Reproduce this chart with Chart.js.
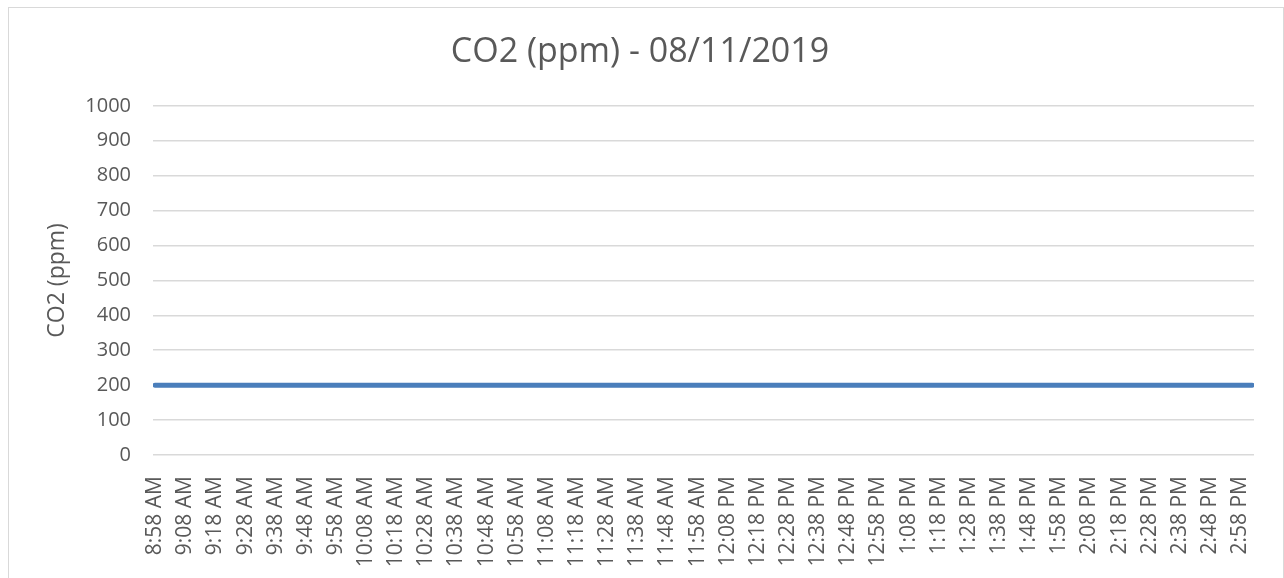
<!DOCTYPE html>
<html>
<head>
<meta charset="utf-8">
<script src="https://cdn.jsdelivr.net/npm/chart.js@4/dist/chart.umd.min.js"></script>
<style>
    html, body {margin: 0; padding: 0; background: #fff;}
    .frame {position: absolute; left: 8px; top: 7px; width: 1274px; height: 600px; border: 1px solid #d9d9d9;}
    #wrap {position: absolute; left: 0; top: 0; width: 1284px; height: 578px;}
</style>
</head>
<body>
<div class="frame"></div>
<div id="wrap"><canvas id="co2Chart" width="1284" height="578"></canvas></div>
<script>
// readings (minutes after midnight) and CO2 values
const readMinutes = [538, 548, 558, 568, 578, 588, 598, 608, 618, 628, 638, 648, 658, 668, 678, 688, 698, 708, 718,
    728, 738, 748, 758, 768, 778, 788, 798, 808, 818, 828, 838, 848, 858, 868, 878, 888, 898, 902];
const co2Values = [200, 200, 200, 200, 200, 200, 200, 200, 200, 200, 200, 200, 200, 200, 200, 200, 200, 200, 200,
    200, 200, 200, 200, 200, 200, 200, 200, 200, 200, 200, 200, 200, 200, 200, 200, 200, 200, 200];

const tickMinutes = [538, 548, 558, 568, 578, 588, 598, 608, 618, 628, 638, 648, 658, 668, 678, 688, 698, 708, 718,
    728, 738, 748, 758, 768, 778, 788, 798, 808, 818, 828, 838, 848, 858, 868, 878, 888, 898];
const tickLabels = ['8:58 AM', '9:08 AM', '9:18 AM', '9:28 AM', '9:38 AM', '9:48 AM', '9:58 AM', '10:08 AM',
    '10:18 AM', '10:28 AM', '10:38 AM', '10:48 AM', '10:58 AM', '11:08 AM', '11:18 AM', '11:28 AM', '11:38 AM',
    '11:48 AM', '11:58 AM', '12:08 PM', '12:18 PM', '12:28 PM', '12:38 PM', '12:48 PM', '12:58 PM', '1:08 PM',
    '1:18 PM', '1:28 PM', '1:38 PM', '1:48 PM', '1:58 PM', '2:08 PM', '2:18 PM', '2:28 PM', '2:38 PM', '2:48 PM',
    '2:58 PM'];

const FONT = 'Open Sans';
const GREY = '#595959';

new Chart(document.getElementById('co2Chart'), {
    type: 'line',
    data: {
        datasets: [{
            label: 'CO2 (ppm)',
            data: readMinutes.map((m, i) => ({x: m, y: co2Values[i]})),
            borderColor: '#4a7ebb',
            borderWidth: 5,
            borderCapStyle: 'round',
            pointRadius: 0,
            tension: 0
        }]
    },
    options: {
        responsive: false,
        animation: false,
        layout: {padding: {left: 26, right: 30, top: 0, bottom: 0}},
        plugins: {
            legend: {display: false},
            tooltip: {enabled: false},
            title: {
                display: true,
                text: 'CO2 (ppm) - 08/11/2019',
                color: GREY,
                font: {family: FONT, size: 34, weight: 'normal'},
                padding: {top: 32, bottom: 33}
            }
        },
        scales: {
            x: {
                type: 'linear',
                min: 537.3,
                max: 902.6,
                afterBuildTicks: axis => { axis.ticks = tickMinutes.map(v => ({value: v})); },
                afterFit: axis => {
                    axis.height = 123;
                    axis.paddingLeft = 0;
                    axis.paddingRight = 0;
                },
                grid: {display: false, drawTicks: false},
                border: {display: false},
                ticks: {
                    autoSkip: false,
                    minRotation: 90,
                    maxRotation: 90,
                    padding: 21,
                    color: GREY,
                    font: {family: FONT, size: 21},
                    callback: v => tickLabels[tickMinutes.indexOf(v)]
                }
            },
            y: {
                min: 0,
                max: 1000,
                afterFit: axis => { axis.width = 127; },
                grid: {color: '#d9d9d9', lineWidth: 1.5, drawTicks: false},
                border: {display: false},
                ticks: {stepSize: 100, padding: 22, color: GREY, font: {family: FONT, size: 20}, callback: v => String(v)},
                title: {display: true, text: 'CO2 (ppm)', color: GREY, font: {family: FONT, size: 23}, padding: {top: 18, bottom: 0}}
            }
        }
    }
});
</script>
</body>
</html>
